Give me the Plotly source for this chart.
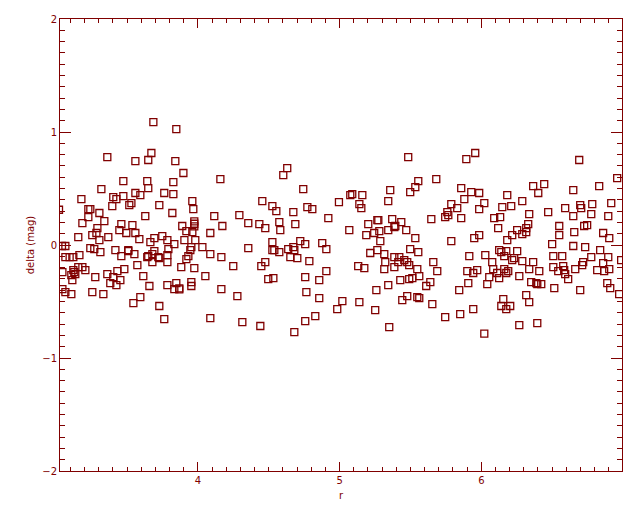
import plotly.graph_objects as go

# ---- data (r vs delta (mag)) ----
r_a = [3.685, 3.847, 3.671, 3.360, 3.558, 3.649, 3.840, 3.897, 3.473, 3.642,
       3.826, 3.318, 3.649, 3.558, 3.593, 3.762, 3.826, 3.177, 3.402, 3.424,
       3.473, 3.960, 3.530, 3.515, 3.395, 3.727, 3.967, 3.226, 3.240, 3.019,
       3.304, 3.819, 3.628, 3.226, 3.339, 3.184, 3.459, 3.537, 3.974, 3.974,
       3.974, 3.889, 3.960, 3.290, 3.283, 3.254, 3.445, 3.494, 3.558, 3.155,
       3.304, 3.367, 3.586, 3.664, 3.692, 3.748, 3.784, 3.833, 3.904, 3.981,
       3.918, 3.040, 3.064, 3.240, 3.268, 3.311, 3.417, 3.508, 3.508, 3.459,
       3.551, 3.692, 3.678, 3.642, 3.649, 3.727, 3.720, 3.791, 3.784, 3.784,
       3.678, 3.946, 3.953, 3.932, 3.918, 3.064, 3.094, 3.120, 3.163, 3.155,
       3.184, 3.120, 3.127, 3.106, 3.134, 3.205, 3.043, 3.113, 3.275, 3.360,
       3.402, 3.431, 3.480, 3.572, 3.614, 3.452, 3.381, 3.424, 3.657, 3.784,
       3.847, 3.833, 3.868, 3.868, 3.953, 3.953, 3.882, 3.974, 3.043, 3.064,
       3.106, 3.254, 3.332, 3.593, 3.544, 3.727, 3.762]
delta_a = [1.088, 1.026, 0.814, 0.778, 0.743, 0.752, 0.743, 0.637, 0.566, 0.566,
           0.557, 0.495, 0.504, 0.460, 0.442, 0.460, 0.451, 0.406, 0.424, 0.406,
           0.433, 0.389, 0.371, 0.353, 0.344, 0.353, 0.318, 0.318, 0.318, 0.312,
           0.283, 0.283, 0.256, 0.247, 0.212, 0.194, 0.185, 0.176, 0.209, 0.188,
           0.165, 0.168, 0.114, 0.150, 0.106, 0.088, 0.132, 0.106, 0.106, 0.070,
           0.044, 0.070, 0.052, 0.026, 0.061, 0.079, 0.044, 0.008, 0.044, 0.044,
           0.123, -0.009, -0.009, -0.027, -0.036, -0.063, -0.045, -0.045, -0.054, -0.098,
           -0.080, -0.054, -0.080, -0.107, -0.098, -0.116, -0.107, -0.036, -0.089, -0.151,
           -0.151, -0.045, -0.018, -0.098, -0.125, -0.107, -0.107, -0.107, -0.089, -0.195,
           -0.195, -0.222, -0.240, -0.266, -0.257, -0.222, -0.240, -0.310, -0.284, -0.257,
           -0.284, -0.231, -0.213, -0.178, -0.275, -0.310, -0.337, -0.355, -0.363, -0.355,
           -0.337, -0.390, -0.384, -0.393, -0.328, -0.363, -0.195, -0.204, -0.390, -0.417,
           -0.434, -0.417, -0.434, -0.461, -0.514, -0.540, -0.656]

r_b = [4.630, 4.602, 4.158, 4.743, 4.454, 4.525, 4.553, 4.772, 4.807, 4.673,
       4.995, 4.920, 4.115, 4.292, 4.172, 4.355, 4.433, 4.475, 4.574, 4.581,
       4.687, 4.087, 4.031, 4.087, 4.165, 4.355, 4.525, 4.525, 4.539, 4.574,
       4.637, 4.673, 4.680, 4.722, 4.757, 4.877, 4.906, 4.652, 4.701, 4.786,
       4.475, 4.447, 4.249, 4.052, 4.496, 4.532, 4.757, 4.906, 4.856, 4.165,
       4.278, 4.765, 4.856, 4.983, 4.087, 4.313, 4.440, 4.757, 4.828, 4.680]
delta_b = [0.681, 0.619, 0.583, 0.495, 0.389, 0.344, 0.300, 0.336, 0.318, 0.291,
           0.380, 0.238, 0.256, 0.265, 0.168, 0.194, 0.185, 0.150, 0.203, 0.132,
           0.185, 0.106, -0.018, -0.080, -0.107, -0.027, 0.026, -0.045, -0.045, -0.063,
           -0.036, -0.018, -0.045, 0.035, 0.008, 0.017, -0.036, -0.107, -0.116, -0.142,
           -0.151, -0.187, -0.187, -0.275, -0.302, -0.293, -0.284, -0.231, -0.310, -0.390,
           -0.452, -0.417, -0.470, -0.567, -0.647, -0.682, -0.717, -0.673, -0.629, -0.771]

r_c = [5.484, 5.894, 5.957, 5.555, 5.682, 5.534, 5.498, 5.858, 5.929, 5.985,
       5.357, 5.343, 5.075, 5.089, 5.160, 5.139, 5.153, 5.880, 5.788, 5.830,
       5.985, 5.760, 5.745, 5.767, 5.858, 5.647, 5.371, 5.435, 5.266, 5.273,
       5.393, 5.386, 5.202, 5.280, 5.244, 5.188, 5.343, 5.470, 5.068, 5.534,
       5.287, 5.788, 5.950, 5.985, 5.498, 5.555, 5.216, 5.266, 5.315, 5.915,
       5.386, 5.421, 5.456, 5.477, 5.491, 5.414, 5.322, 5.315, 5.386, 5.131,
       5.174, 5.548, 5.661, 5.689, 5.562, 5.513, 5.491, 5.428, 5.343, 5.611,
       5.640, 5.901, 5.943, 5.971, 5.908, 5.844, 5.259, 5.019, 5.139, 5.251,
       5.442, 5.477, 5.548, 5.562, 5.654, 5.745, 5.851, 5.943, 5.350]
delta_c = [0.778, 0.760, 0.814, 0.566, 0.583, 0.513, 0.468, 0.504, 0.468, 0.460,
           0.486, 0.389, 0.442, 0.451, 0.442, 0.362, 0.327, 0.406, 0.362, 0.327,
           0.318, 0.291, 0.247, 0.265, 0.238, 0.229, 0.229, 0.203, 0.221, 0.221,
           0.168, 0.159, 0.185, 0.123, 0.106, 0.088, 0.132, 0.132, 0.132, 0.061,
           0.035, 0.035, 0.061, 0.088, -0.036, -0.063, -0.071, -0.045, -0.080, -0.098,
           -0.107, -0.107, -0.133, -0.151, -0.178, -0.151, -0.151, -0.213, -0.195, -0.187,
           -0.204, -0.213, -0.151, -0.231, -0.275, -0.293, -0.302, -0.310, -0.355, -0.363,
           -0.328, -0.231, -0.248, -0.222, -0.337, -0.399, -0.399, -0.496, -0.505, -0.576,
           -0.487, -0.452, -0.461, -0.470, -0.523, -0.638, -0.611, -0.567, -0.726]

r_d = [6.691, 6.959, 6.832, 6.649, 6.444, 6.366, 6.402, 6.183, 6.021, 6.289,
       6.148, 6.211, 6.472, 6.592, 6.698, 6.705, 6.783, 6.917, 6.776, 6.649,
       6.896, 6.338, 6.133, 6.091, 6.119, 6.331, 6.317, 6.317, 6.253, 6.289,
       6.218, 6.183, 6.550, 6.550, 6.726, 6.747, 6.656, 6.860, 6.903, 6.500,
       6.649, 6.733, 6.839, 6.126, 6.141, 6.176, 6.253, 6.028, 6.162, 6.232,
       6.218, 6.289, 6.366, 6.508, 6.571, 6.776, 6.896, 6.987, 6.077, 6.084,
       6.162, 6.190, 6.176, 6.112, 6.338, 6.409, 6.508, 6.578, 6.585, 6.543,
       6.592, 6.613, 6.663, 6.719, 6.712, 6.818, 6.860, 6.867, 6.903, 6.056,
       6.126, 6.268, 6.042, 6.352, 6.388, 6.395, 6.423, 6.515, 6.698, 6.889,
       6.910, 6.973, 6.317, 6.338, 6.155, 6.141, 6.204, 6.176, 6.268, 6.395,
       6.021]
delta_d = [0.752, 0.592, 0.521, 0.486, 0.539, 0.521, 0.460, 0.442, 0.371, 0.389,
           0.336, 0.344, 0.291, 0.327, 0.353, 0.327, 0.362, 0.371, 0.274, 0.256,
           0.256, 0.274, 0.247, 0.238, 0.150, 0.185, 0.150, 0.114, 0.132, 0.097,
           0.088, 0.044, 0.168, 0.088, 0.168, 0.176, 0.114, 0.106, 0.061, 0.008,
           -0.009, -0.018, -0.045, -0.045, -0.063, -0.054, -0.054, -0.089, -0.098, -0.116,
           -0.133, -0.142, -0.151, -0.098, -0.098, -0.107, -0.107, -0.133, -0.151, -0.213,
           -0.213, -0.231, -0.248, -0.248, -0.213, -0.231, -0.195, -0.187, -0.222, -0.231,
           -0.257, -0.302, -0.213, -0.151, -0.178, -0.222, -0.160, -0.231, -0.213, -0.284,
           -0.293, -0.275, -0.346, -0.328, -0.337, -0.346, -0.346, -0.381, -0.399, -0.337,
           -0.381, -0.434, -0.443, -0.505, -0.479, -0.540, -0.540, -0.567, -0.709, -0.691,
           -0.785]

x_ticks = [4, 5, 6]
x_labels = ["4", "5", "6"]
y_ticks = [-2, -1, 0, 1, 2]
y_labels = ["\u22122", "\u22121", "0", "1", "2"]

RED = "#800000"

r_all = r_a + r_b + r_c + r_d
delta_all = delta_a + delta_b + delta_c + delta_d

fig = go.Figure()
fig.add_trace(go.Scatter(
    x=r_all, y=delta_all, mode="markers",
    marker=dict(symbol="square-open", size=7, color=RED, line=dict(width=1.3, color=RED)),
    showlegend=False, cliponaxis=True,
))

axis_common = dict(
    showline=True, linecolor=RED, linewidth=1, mirror="ticks",
    ticks="inside", tickcolor=RED, tickwidth=1,
    showgrid=False, zeroline=False, automargin=False,
    tickfont=dict(family="DejaVu Sans", size=10, color=RED),
)

fig.update_xaxes(
    range=[3.026, 6.993], tickvals=x_ticks, ticktext=x_labels, ticklen=9,
    minor=dict(ticks="inside", ticklen=4, dtick=0.1, tick0=3, tickcolor=RED, tickwidth=1, showgrid=False),
    title=dict(text="r", font=dict(family="DejaVu Sans", size=10, color=RED), standoff=6),
    **axis_common,
)
fig.update_yaxes(
    range=[-2, 2], tickvals=y_ticks, ticktext=y_labels, ticklen=11,
    minor=dict(ticks="inside", ticklen=5, dtick=0.1, tick0=0, tickcolor=RED, tickwidth=1, showgrid=False),
    title=dict(text="delta (mag)", font=dict(family="DejaVu Sans", size=10, color=RED), standoff=5),
    **axis_common,
)

# page body has an 8px default margin; size the figure so the plot frame
# lands at the reference position
fig.update_layout(
    width=632, height=504,
    margin=dict(l=52, r=18, t=11, b=41),
    paper_bgcolor="white", plot_bgcolor="white",
)

fig.write_html("out.html")
